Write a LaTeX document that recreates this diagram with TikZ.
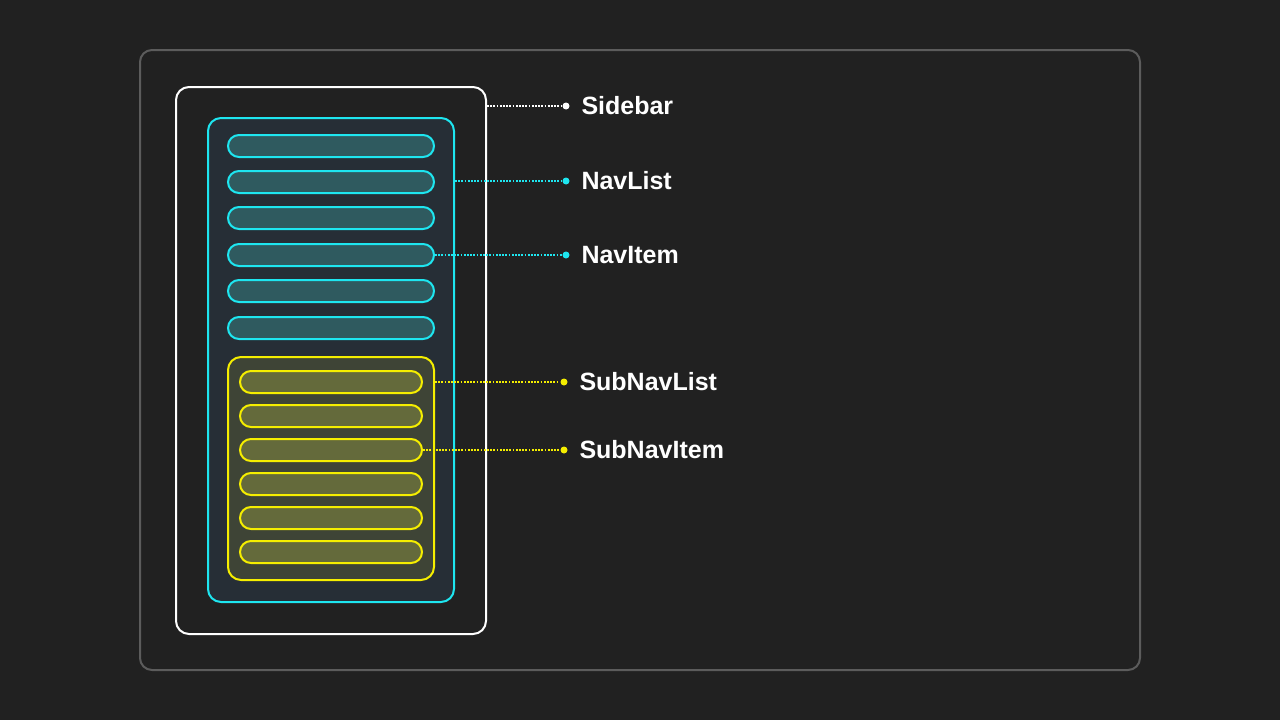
\documentclass[tikz,border=0pt]{standalone}
\usepackage{fontspec}
\setmainfont{Liberation Sans}
\usetikzlibrary{positioning}
\definecolor{canvas}{HTML}{212121}
\definecolor{frameedge}{HTML}{5C5C5C}
\definecolor{navcyan}{HTML}{1EE6F0}
\definecolor{navfill}{HTML}{262E36}
\definecolor{itemfill}{HTML}{2F5A5F}
\definecolor{subyellow}{HTML}{F5EE00}
\definecolor{subfill}{HTML}{3E4436}
\definecolor{subitemfill}{HTML}{646A3B}

\begin{document}
\begin{tikzpicture}[x=1pt,y=-1pt,line width=2pt,
  panel/.style={rounded corners=13pt,inner sep=0pt},
  pill/.style={rounded corners=11pt,inner sep=0pt,minimum height=22pt},
  navitem/.style={pill,draw=navcyan,fill=itemfill,minimum width=206pt},
  subitem/.style={pill,draw=subyellow,fill=subitemfill,minimum width=182pt},
  pin/.style={circle,inner sep=0pt,minimum size=7pt},
  lead/.style={dash pattern=on 1.8pt off 1.4pt,line width=1.8pt},
  tag/.style={right=10pt of #1,inner sep=0pt,text=white,font=\bfseries\fontsize{25}{28}\selectfont}]
  \fill[canvas] (0,0) rectangle (1280,720);
  \useasboundingbox (0,0) rectangle (1280,720);
  \draw[frameedge,rounded corners=12pt] (140,50) rectangle (1140,670);
  % nested containers
  \node[panel,draw=white,minimum width=310pt,minimum height=547pt] (sidebar) at (331,360.5) {};
  \node[panel,draw=navcyan,fill=navfill,minimum width=246pt,minimum height=484pt] (navlist) at (331,360) {};
  \foreach \i/\y in {1/146,2/182,3/218,4/255,5/291,6/328}
    \node[navitem] (ni\i) at (331,\y) {};
  \node[panel,draw=subyellow,fill=subfill,minimum width=206pt,minimum height=223pt] (subnavlist) at (331,468.5) {};
  \foreach \i/\y in {1/382,2/416,3/450,4/484,5/518,6/552}
    \node[subitem] (si\i) at (331,\y) {};
  % callouts
  \node[pin,fill=white] (pside) at (566,106) {};
  \node[pin,fill=navcyan] (plist) at (566,181) {};
  \node[pin,fill=navcyan] (pitem) at (566,255) {};
  \node[pin,fill=subyellow] (psublist) at (564,382) {};
  \node[pin,fill=subyellow] (psubitem) at (564,450) {};
  \draw[lead,white] (sidebar.east |- pside) -- (pside);
  \draw[lead,navcyan] (navlist.east |- plist) -- (plist);
  \draw[lead,navcyan] (ni4.east) -- (pitem);
  \draw[lead,subyellow] (subnavlist.east |- psublist) -- (psublist);
  \draw[lead,subyellow] (si3.east) -- (psubitem);
  \node[tag=pside,anchor=west] {Sidebar};
  \node[tag=plist,anchor=west] {NavList};
  \node[tag=pitem,anchor=west] {NavItem};
  \node[tag=psublist,anchor=west] {SubNavList};
  \node[tag=psubitem,anchor=west] {SubNavItem};
\end{tikzpicture}
\end{document}
